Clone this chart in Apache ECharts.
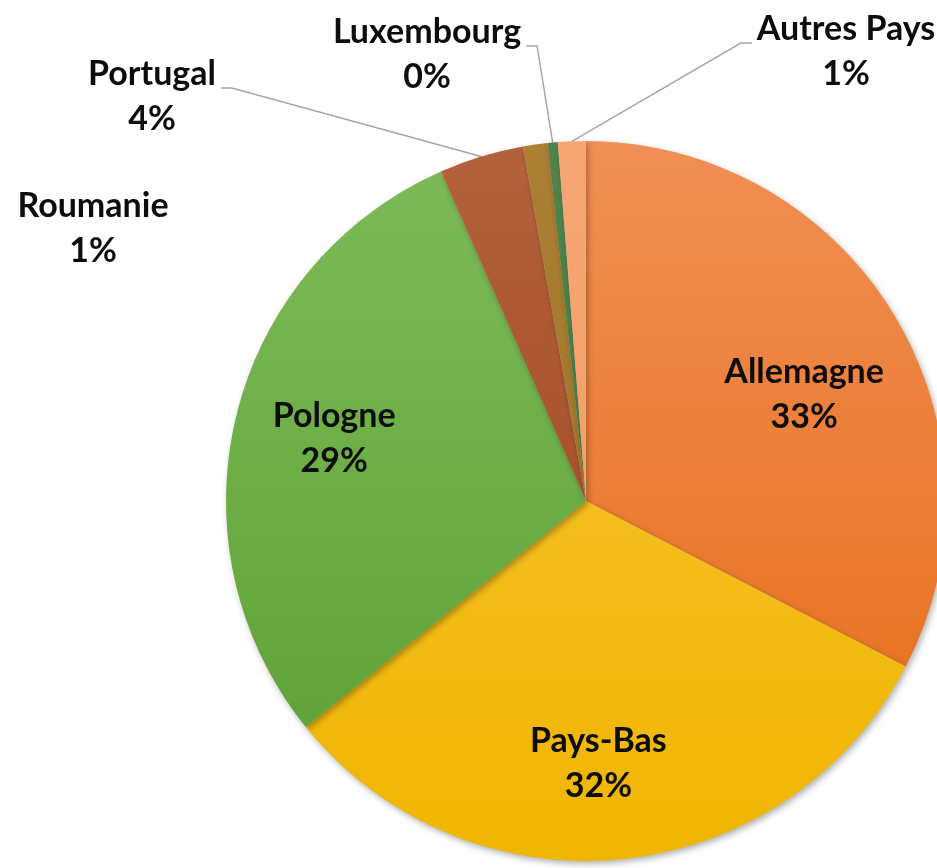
<!DOCTYPE html>
<html>
<head>
<meta charset="utf-8">
<script src="https://cdn.jsdelivr.net/npm/echarts@6/dist/echarts.min.js"></script>
<style>
html, body { margin: 0; background: #fff; }
#mycharts { width: 937px; height: 868px; }
</style>
</head>
<body>
<div id="mycharts"></div>
<script>
// données (parts en %)
var pays = ['Allemagne', 'Pays-Bas', 'Pologne', 'Portugal', 'Roumanie', 'Luxembourg', 'Autres Pays'];
var parts = [32.6, 31.6, 29.2, 3.8, 1.1, 0.45, 1.25];

// couleurs (haut / bas du dégradé)
var couleursHaut = ['#f28f55', '#fcc73c', '#7dbb58', '#b3623c', '#ab8034', '#52844a', '#f7a774'];
var couleursBas = ['#e56a12', '#efb500', '#5b9e32', '#9e4318', '#987020', '#467840', '#f09a60'];

// grandes parts : étiquette à l'intérieur (petit décalage comme dans Excel)
var grands = ['Allemagne', 'Pays-Bas', 'Pologne'];
var decalages = { 'Allemagne': [2, 25], 'Pays-Bas': [-13, 11], 'Pologne': [-6, -3] };
// petites parts : position des étiquettes à l'extérieur
var etiquettes = {
    'Portugal': { x: 152, y: 97, cote: 'droite' },
    'Roumanie': { x: 93, y: 229 },
    'Luxembourg': { x: 427, y: 55, cote: 'droite' },
    'Autres Pays': { x: 846, y: 52, cote: 'gauche' }
};

var police = {
    fontFamily: 'Lato',
    fontWeight: 'bold',
    fontSize: 34,
    lineHeight: 45,
    color: '#0d0d0d'
};

var myChart = echarts.init(document.getElementById('mycharts'));

function degrade(i) {
    return {
        type: 'linear', x: 0, y: 141, x2: 0, y2: 861, global: true,
        colorStops: [
            { offset: 0, color: couleursHaut[i] },
            { offset: 1, color: couleursBas[i] }
        ]
    };
}

var donneesPie = pays.map(function (nom, i) {
    var ext = etiquettes[nom];
    return {
        name: nom,
        value: parts[i],
        itemStyle: { color: degrade(i) },
        label: { show: !!ext },
        labelLine: { show: !!(ext && ext.cote) }
    };
});

var donneesTexte = pays.map(function (nom, i) {
    return {
        name: nom,
        value: parts[i],
        label: { show: grands.indexOf(nom) >= 0 }
    };
});

var option = {
    animation: false,
    series: [{
        name: 'parts',
        type: 'pie',
        center: [586, 501],
        radius: [0, 360],
        startAngle: 90,
        clockwise: true,
        avoidLabelOverlap: false,
        percentPrecision: 0,
        itemStyle: {
            borderWidth: 0,
            shadowBlur: 6,
            shadowColor: 'rgba(0,0,0,0.3)',
            shadowOffsetX: 2,
            shadowOffsetY: 3
        },
        label: Object.assign({
            position: 'outside',
            formatter: '{b}\n{d}%',
            align: 'center'
        }, police),
        labelLine: {
            show: true,
            length: 10,
            length2: 10,
            lineStyle: { color: '#a6a6a6', width: 1.5 }
        },
        labelLayout: function (params) {
            var nom = pays[params.dataIndex];
            var e = etiquettes[nom];
            if (!e) return {};
            var out = { x: e.x, y: e.y, align: 'center', verticalAlign: 'middle' };
            if (e.cote && params.labelLinePoints) {
                var w = params.labelRect.width;
                var ly = e.y - 9;
                var bord = e.cote === 'droite' ? e.x + w / 2 + 5 : e.x - w / 2 - 5;
                var coude = e.cote === 'droite' ? bord + 11 : bord - 11;
                out.labelLinePoints = [params.labelLinePoints[0], [coude, ly], [bord, ly]];
            }
            return out;
        },
        emphasis: { disabled: true },
        data: donneesPie
    }, {
        name: 'etiquettes',
        type: 'pie',
        center: [586, 501],
        radius: [140, 360],
        startAngle: 90,
        clockwise: true,
        silent: true,
        percentPrecision: 0,
        itemStyle: { color: 'rgba(0,0,0,0)', borderWidth: 0 },
        label: Object.assign({
            position: 'inside',
            formatter: '{b}\n{d}%',
            align: 'center'
        }, police),
        labelLine: { show: false },
        labelLayout: function (params) {
            var d = decalages[pays[params.dataIndex]];
            return d ? { dx: d[0], dy: d[1] } : {};
        },
        emphasis: { disabled: true },
        data: donneesTexte
    }]
};

myChart.setOption(option);
</script>
</body>
</html>
